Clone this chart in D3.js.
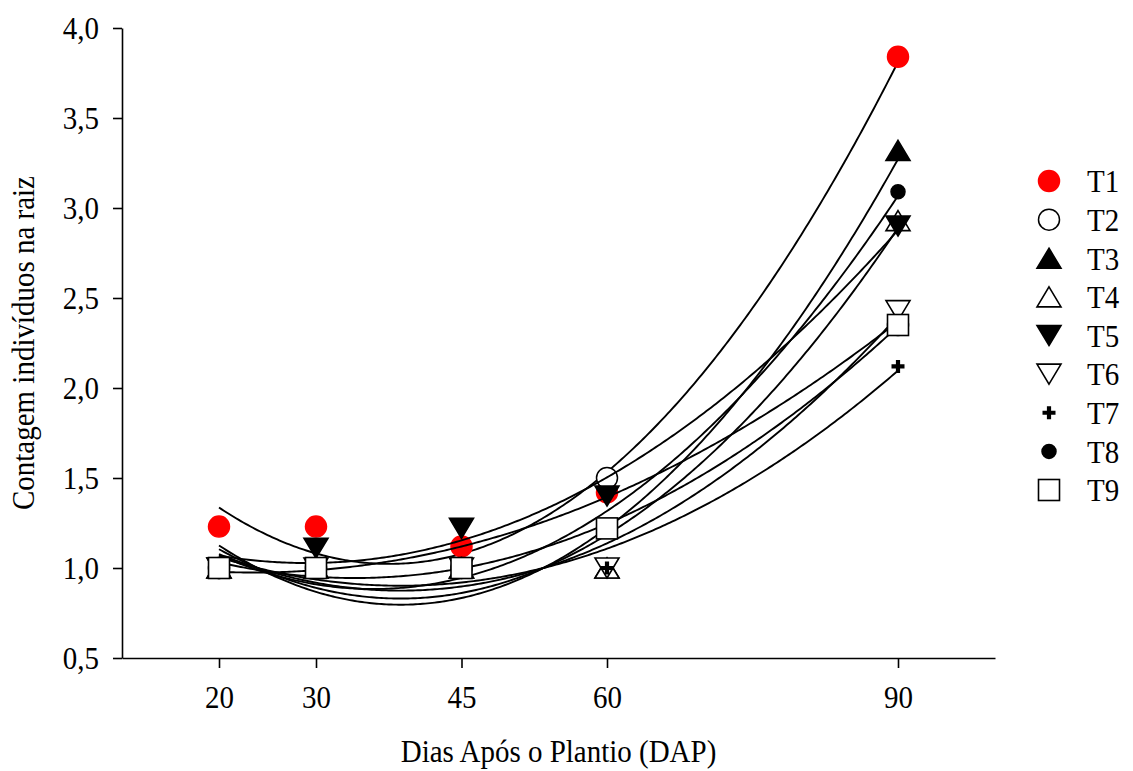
<!DOCTYPE html>
<html>
<head>
<meta charset="utf-8">
<script src="https://cdn.jsdelivr.net/npm/d3@7"></script>
<style>
  html, body { margin: 0; padding: 0; background: #fff; }
  svg { display: block; }
  text { font-family: "Liberation Serif", "Times New Roman", serif; fill: #000; }
</style>
</head>
<body>
<svg id="chart" width="1133" height="771"></svg>
<script>
// ---- data ----
const days = [20, 30, 45, 60, 90];
const xTicks = [20, 30, 45, 60, 90];
const yTicks = [0.5, 1.0, 1.5, 2.0, 2.5, 3.0, 3.5, 4.0];
const seriesNames = ["T1", "T2", "T3", "T4", "T5", "T6", "T7", "T8", "T9"];
const T1 = [1.23, 1.23, 1.12, 1.42, 3.84];
const T2 = [1.00, 1.00, 1.00, 1.50, 2.35];
const T3 = [1.00, 1.00, 1.00, 1.00, 3.32];
const T4 = [1.00, 1.00, 1.00, 1.00, 2.93];
const T5 = [1.00, 1.11, 1.22, 1.40, 2.90];
const T6 = [1.00, 1.00, 1.00, 1.00, 2.43];
const T7 = [1.00, 1.00, 1.00, 1.00, 2.12];
const T8 = [1.00, 1.00, 1.00, 1.22, 3.09];
const T9 = [1.00, 1.00, 1.00, 1.22, 2.35];
const seriesValues = [T1, T2, T3, T4, T5, T6, T7, T8, T9];
const xTitle = "Dias Após o Plantio (DAP)";
const yTitle = "Contagem indivíduos na raiz";

// ---- layout ----
const svg = d3.select("#chart");
const x = d3.scaleLinear().domain([10, 100]).range([122, 995]);
const y = d3.scaleLinear().domain([0.5, 4.0]).range([658, 28]);
const fmt = v => d3.format(".1f")(v).replace(".", ",");
const FS = 29;
const VS = 1.12; // slight vertical stretch of glyphs, as in the reference

// axes
const yAxis = svg.append("g").attr("transform", `translate(${x(10)},0)`)
  .call(d3.axisLeft(y).tickValues(yTicks).tickFormat(fmt).tickSize(9).tickSizeOuter(0).tickPadding(14));
const xAxis = svg.append("g").attr("transform", `translate(0,${y(0.5)})`)
  .call(d3.axisBottom(x).tickValues(xTicks).tickFormat(d3.format("d")).tickSize(10).tickSizeOuter(0).tickPadding(17));
[yAxis, xAxis].forEach(a => {
  a.selectAll("path.domain").attr("stroke", "#000").attr("stroke-width", 1.6);
  a.selectAll(".tick line").attr("stroke", "#000").attr("stroke-width", 1.6);
  a.selectAll(".tick text").attr("font-family", '"Liberation Serif", serif').attr("font-size", FS).attr("fill", "#000");
});
xAxis.selectAll(".tick text").attr("transform", function () {
  const ty = +d3.select(this).attr("y");
  return `translate(0,${ty}) scale(1,${VS}) translate(0,${-ty})`;
});
yAxis.selectAll(".tick text").attr("transform", `scale(1,${VS})`);

svg.append("text").attr("transform", `translate(${(x(10) + x(100)) / 2},762) scale(1,${VS})`)
  .attr("text-anchor", "middle").attr("font-size", FS).text(xTitle);
svg.append("text").attr("transform", `translate(34,${(y(0.5) + y(4.0)) / 2}) rotate(-90) scale(1,${VS})`)
  .attr("text-anchor", "middle").attr("font-size", FS).text(yTitle);

// quadratic least-squares fit
function quadFit(xs, ys) {
  const m = d3.mean(xs);
  const u = xs.map(v => v - m);
  let S = [0, 0, 0, 0, 0], T = [0, 0, 0];
  u.forEach((ui, i) => {
    for (let k = 0; k < 5; k++) S[k] += Math.pow(ui, k);
    for (let k = 0; k < 3; k++) T[k] += ys[i] * Math.pow(ui, k);
  });
  const A = [[S[0], S[1], S[2], T[0]], [S[1], S[2], S[3], T[1]], [S[2], S[3], S[4], T[2]]];
  for (let c = 0; c < 3; c++) {
    for (let r = c + 1; r < 3; r++) {
      const f = A[r][c] / A[c][c];
      for (let k = c; k < 4; k++) A[r][k] -= f * A[c][k];
    }
  }
  const b = [0, 0, 0];
  for (let r = 2; r >= 0; r--) {
    let s = A[r][3];
    for (let k = r + 1; k < 3; k++) s -= A[r][k] * b[k];
    b[r] = s / A[r][r];
  }
  return v => b[0] + b[1] * (v - m) + b[2] * (v - m) * (v - m);
}

// marker styles
const sym = {
  T1: { type: "circle", r: 10.5, fill: "#ff0000", stroke: "#ff0000" },
  T2: { type: "circle", r: 10.5, fill: "#fff", stroke: "#000" },
  T3: { type: "tri", up: true, fill: "#000" },
  T4: { type: "tri", up: true, fill: "#fff" },
  T5: { type: "tri", up: false, fill: "#000" },
  T6: { type: "tri", up: false, fill: "#fff" },
  T7: { type: "plus" },
  T8: { type: "circle", r: 7, fill: "#000", stroke: "#000" },
  T9: { type: "square", fill: "#fff" }
};
function drawMarker(g, name, cx, cy) {
  const s = sym[name];
  if (s.type === "circle") {
    g.append("circle").attr("cx", cx).attr("cy", cy).attr("r", s.r)
      .attr("fill", s.fill).attr("stroke", s.stroke).attr("stroke-width", 1.5);
  } else if (s.type === "tri") {
    const w = 12, h = 10;
    const p = s.up ? `M${cx},${cy - h}L${cx + w},${cy + h}L${cx - w},${cy + h}Z`
                   : `M${cx},${cy + h}L${cx + w},${cy - h}L${cx - w},${cy - h}Z`;
    g.append("path").attr("d", p).attr("fill", s.fill).attr("stroke", "#000").attr("stroke-width", 1.6).attr("stroke-linejoin", "miter");
  } else if (s.type === "plus") {
    g.append("path").attr("d", `M${cx - 6.5},${cy}L${cx + 6.5},${cy}M${cx},${cy - 6.5}L${cx},${cy + 6.5}`)
      .attr("stroke", "#000").attr("stroke-width", 4.2);
  } else if (s.type === "square") {
    g.append("rect").attr("x", cx - 10.5).attr("y", cy - 10.5).attr("width", 21).attr("height", 21)
      .attr("fill", s.fill).attr("stroke", "#000").attr("stroke-width", 1.6);
  }
}

const line = d3.line().x(d => x(d[0])).y(d => y(d[1])).curve(d3.curveLinear);
const plot = svg.append("g");
seriesNames.forEach((name, i) => {
  const vals = seriesValues[i];
  const f = quadFit(days, vals);
  const pts = d3.range(days[0], days[days.length - 1] + 0.001, 0.25).map(v => [v, f(v)]);
  const g = plot.append("g");
  g.append("path").attr("d", line(pts)).attr("fill", "none").attr("stroke", "#000").attr("stroke-width", 1.9);
  days.forEach((dv, j) => drawMarker(g, name, x(dv), y(vals[j])));
});

// legend
const legY = d3.scalePoint().domain(seriesNames).range([181, 490]);
const leg = svg.append("g");
seriesNames.forEach(name => {
  drawMarker(leg, name, 1049, legY(name));
  leg.append("text").attr("transform", `translate(1087,${legY(name)}) scale(1,${VS})`).attr("dy", "0.35em")
    .attr("font-size", FS).text(name);
});
</script>
</body>
</html>
